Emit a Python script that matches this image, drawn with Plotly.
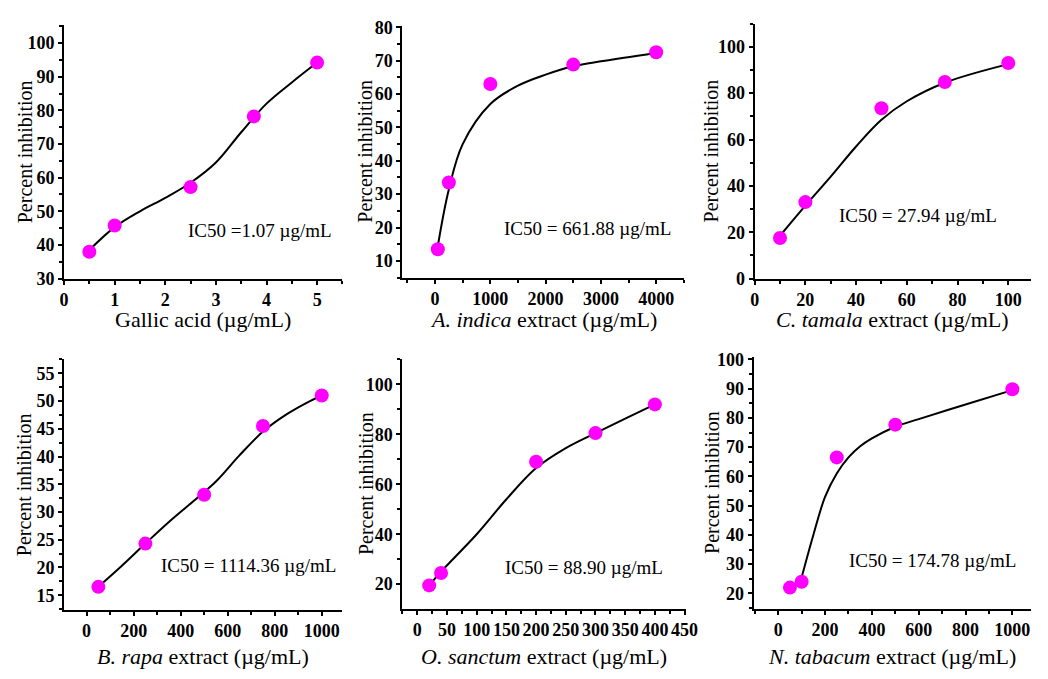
import plotly.graph_objects as go

W, H = 1048, 679

# ---------------- data ----------------
gallic_x = [0.5, 1, 2.5, 3.75, 5]
gallic_y = [38.0, 45.8, 57.2, 78.2, 94.2]
gallic_fit_x = [0.5, 1, 1.5, 2, 2.5, 3, 3.5, 4, 4.5, 5]
gallic_fit_y = [38.5, 45.3, 50.0, 54.0, 58.5, 64.5, 73.5, 82.0, 88.3, 94.2]

indica_x = [50, 250, 1000, 2500, 4000]
indica_y = [13.5, 33.5, 63.0, 68.8, 72.5]
indica_fit_x = [50, 250, 500, 1000, 1500, 2000, 2500, 3000, 4000]
indica_fit_y = [14.5, 31.5, 45.0, 57.0, 62.5, 65.8, 68.3, 69.8, 72.3]

tamala_x = [10, 20, 50, 75, 100]
tamala_y = [17.5, 33.0, 73.5, 84.8, 93.0]
tamala_fit_x = [10, 20, 30, 40, 50, 60, 75, 100]
tamala_fit_y = [18.5, 31.5, 44.0, 57.0, 68.5, 76.5, 84.5, 92.5]

rapa_x = [50, 250, 500, 750, 1000]
rapa_y = [16.5, 24.3, 33.1, 45.5, 51.0]
rapa_fit_x = [50, 150, 250, 350, 450, 550, 650, 750, 850, 950, 1000]
rapa_fit_y = [16.5, 20.3, 24.3, 28.2, 31.8, 35.5, 40.2, 44.5, 47.6, 50.0, 51.0]

sanctum_x = [20, 40, 200, 300, 400]
sanctum_y = [19.5, 24.5, 69.0, 80.5, 92.0]
sanctum_fit_x = [20, 40, 100, 150, 200, 250, 300, 350, 400]
sanctum_fit_y = [19.5, 25.0, 40.0, 54.0, 66.5, 74.5, 80.5, 86.3, 92.0]

tabacum_x = [50, 100, 250, 500, 1000]
tabacum_y = [22.0, 24.0, 66.5, 77.7, 89.8]
tabacum_err = [0.5, 0.5, 0.5, 0.5, 2.0]
tabacum_fit_x = [100, 150, 200, 250, 300, 350, 400, 500, 600, 800, 1000]
tabacum_fit_y = [25.5, 40.0, 53.0, 61.0, 66.5, 70.3, 73.0, 77.0, 79.6, 84.6, 89.5]

ic50_labels = ["IC50 =1.07 µg/mL", "IC50 = 661.88 µg/mL", "IC50 = 27.94 µg/mL",
               "IC50 = 1114.36 µg/mL", "IC50 = 88.90 µg/mL", "IC50 = 174.78 µg/mL"]
x_titles = ["Gallic acid (µg/mL)", "<i>A. indica</i> extract (µg/mL)",
            "<i>C. tamala</i> extract (µg/mL)", "<i>B. rapa</i> extract (µg/mL)",
            "<i>O. sanctum</i> extract (µg/mL)", "<i>N. tabacum</i> extract (µg/mL)"]
y_title = "Percent inhibition"

# ---------------- layout settings ----------------
FONT = "Liberation Serif"
MAG = "#FF00FF"

panels = [
    dict(x=gallic_x, y=gallic_y, fx=gallic_fit_x, fy=gallic_fit_y, err=None,
         px=(60, 343), py=(17, 278), xr=[0, 5.5], yr=[30, 105.5],
         xd=1, xm=0.5, yd=10, ym=5, ic=(3.87, 44.2)),
    dict(x=indica_x, y=indica_y, fx=indica_fit_x, fy=indica_fit_y, err=None,
         px=(404, 690), py=(18, 277), xr=[-590, 4500], yr=[5, 80.5],
         xd=1000, xm=500, yd=10, ym=5, ic=(2755, 19.6)),
    dict(x=tamala_x, y=tamala_y, fx=tamala_fit_x, fy=tamala_fit_y, err=None,
         px=(762, 1043), py=(16, 278), xr=[0, 109], yr=[0, 110],
         xd=20, xm=10, yd=20, ym=10, ic=(64.5, 27.4)),
    dict(x=rapa_x, y=rapa_y, fx=rapa_fit_x, fy=rapa_fit_y, err=None,
         px=(60, 343), py=(361, 618), xr=[-96, 1088], yr=[12.4, 57.5],
         xd=200, xm=100, yd=5, ym=2.5, ic=(690, 20.3)),
    dict(x=sanctum_x, y=sanctum_y, fx=sanctum_fit_x, fy=sanctum_fit_y, err=None,
         px=(404, 692), py=(361, 617), xr=[-25, 452], yr=[10.2, 110],
         xd=50, xm=25, yd=20, ym=10, ic=(281, 26.5)),
    dict(x=tabacum_x, y=tabacum_y, fx=tabacum_fit_x, fy=tabacum_fit_y, err=tabacum_err,
         px=(761, 1043), py=(358, 617), xr=[-105, 1080], yr=[14.8, 101],
         xd=200, xm=100, yd=10, ym=5, ic=(660, 31.2)),
]

fig = go.Figure()
annotations = []

for i, p in enumerate(panels):
    n = i + 1
    xa = "x" if n == 1 else f"x{n}"
    ya = "y" if n == 1 else f"y{n}"
    fig.add_trace(go.Scatter(x=p["fx"], y=p["fy"], mode="lines",
                             line=dict(color="black", width=2, shape="spline", smoothing=1.0),
                             xaxis=xa, yaxis=ya, showlegend=False, hoverinfo="skip"))
    err = dict(type="data", array=p["err"], color=MAG, thickness=2, width=0) if p["err"] else None
    fig.add_trace(go.Scatter(x=p["x"], y=p["y"], mode="markers",
                             marker=dict(color=MAG, size=14, line=dict(width=0)),
                             error_y=err, xaxis=xa, yaxis=ya, showlegend=False))

    x0, x1 = p["px"]
    yt, yb = p["py"]
    xdom = [x0 / W, x1 / W]
    ydom = [(H - yb) / H, (H - yt) / H]
    axcommon = dict(showline=True, linecolor="black", linewidth=2, mirror=False,
                    showgrid=False, zeroline=False, ticks="outside", ticklen=4,
                    tickwidth=2, tickcolor="black", tickangle=0,
                    tickfont=dict(family=FONT, size=18, color="black", weight="bold"))
    fig.layout[f"xaxis{'' if n == 1 else n}"] = dict(
        domain=xdom, range=p["xr"], anchor=ya, tick0=0, dtick=p["xd"],
        minor=dict(ticks="outside", ticklen=3, tickwidth=1.5, tickcolor="black",
                   dtick=p["xm"], tick0=0),
        **axcommon)
    fig.layout[f"yaxis{'' if n == 1 else n}"] = dict(
        domain=ydom, range=p["yr"], anchor=xa, tick0=0, dtick=p["yd"],
        minor=dict(ticks="outside", ticklen=3, tickwidth=1.5, tickcolor="black",
                   dtick=p["ym"], tick0=0),
        **axcommon)

    # IC50 label
    annotations.append(dict(x=p["ic"][0], y=p["ic"][1], xref=xa, yref=ya,
                            text=ic50_labels[i], showarrow=False,
                            xanchor="center", yanchor="middle",
                            font=dict(family=FONT, size=19, color="black")))
    # x title
    ty = 320 if n <= 3 else 666
    annotations.append(dict(x=(x0 + x1) / 2 / W, y=(H - ty) / H, xref="paper", yref="paper",
                            text=x_titles[i], showarrow=False,
                            xanchor="center", yanchor="middle",
                            font=dict(family=FONT, size=22, color="black")))
    # y title
    tx = [20, 366, 718, 19, 367, 718][i]
    annotations.append(dict(x=tx / W, y=(H - (yt + yb) / 2) / H, xref="paper", yref="paper",
                            text=y_title, showarrow=False, textangle=-90,
                            xanchor="center", yanchor="middle",
                            font=dict(family=FONT, size=20, color="black")))

fig.update_layout(width=W, height=H, margin=dict(l=0, r=0, t=0, b=0),
                  plot_bgcolor="white", paper_bgcolor="white",
                  annotations=annotations, showlegend=False)

fig.write_html("out.html", config={"displayModeBar": False},
               post_script="document.body.style.margin='0';")
